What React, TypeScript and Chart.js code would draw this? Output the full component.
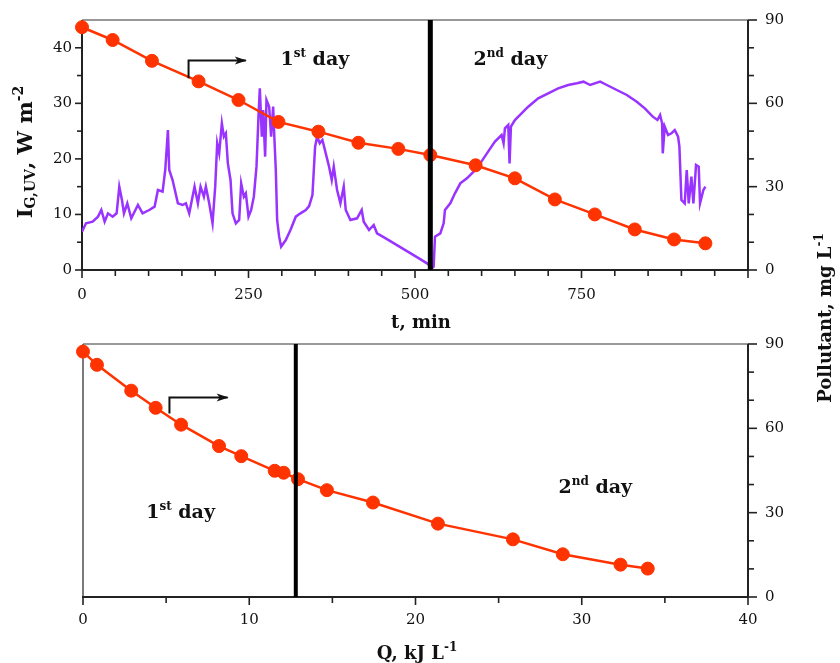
import React, { useEffect, useRef } from "react";
import { Chart, registerables } from "chart.js";

Chart.register(...registerables);

const FONT = '"DejaVu Serif", serif';

// ---- Top panel: irradiance (left axis) vs time ----
const irrTime = [0, 6, 16, 24, 29, 34, 39, 46, 52, 56, 60, 63, 68, 74, 84, 91, 101, 109, 114, 121, 125, 129, 131, 136, 144, 151, 156, 161, 169, 174, 178, 183, 186, 191, 196, 200, 203, 206, 210, 213, 216, 219, 223, 226, 231, 236, 239, 243, 246, 250, 254, 258, 262, 265, 267, 270, 272, 275, 277, 281, 284, 287, 289, 291, 293, 296, 299, 306, 313, 321, 328, 336, 341, 346, 350, 353, 357, 361, 366, 371, 375, 378, 383, 388, 393, 396, 403, 413, 420, 423, 431, 438, 443, 456, 481, 506, 518, 526, 528, 530, 538, 543, 545, 553, 560, 568, 578, 588, 598, 608, 620, 630, 633, 635, 640, 642, 644, 650, 660, 670, 685, 700, 715, 730, 743, 753, 763, 778, 788, 803, 818, 833, 845, 857, 864, 868, 871, 872, 875, 880, 885, 890, 895, 897, 900, 905, 908, 911, 915, 918, 922, 926, 928, 933, 936];
const irrValue = [6.9, 8.4, 8.7, 9.6, 10.8, 8.7, 10.2, 9.6, 10.2, 15.0, 12.6, 10.2, 12.0, 9.3, 11.7, 10.2, 10.8, 11.4, 14.4, 14.1, 18.0, 25.2, 18.0, 16.2, 12.0, 11.7, 12.0, 10.2, 15.0, 12.0, 15.0, 13.2, 15.0, 12.0, 8.4, 15.0, 22.8, 21.0, 26.4, 24.0, 24.6, 19.2, 16.2, 10.2, 8.4, 9.0, 15.6, 13.2, 13.8, 9.6, 10.8, 13.2, 18.6, 27.6, 32.7, 24.0, 28.8, 20.4, 30.6, 29.4, 24.0, 29.4, 23.4, 18.0, 9.0, 6.0, 4.2, 5.4, 7.2, 9.6, 10.2, 10.8, 11.5, 13.5, 22.2, 24.0, 22.8, 23.4, 21.0, 18.6, 16.2, 18.6, 14.4, 12.0, 15.0, 10.8, 9.0, 9.3, 10.8, 8.7, 7.2, 8.1, 6.6, 5.7, 3.9, 2.1, 1.2, 0.4, 0.6, 6.0, 6.6, 8.4, 10.8, 12.0, 13.8, 15.6, 16.5, 17.7, 19.2, 21.0, 23.1, 24.3, 22.8, 25.5, 26.1, 19.2, 25.8, 27.0, 28.2, 29.4, 30.9, 31.8, 32.7, 33.3, 33.6, 33.9, 33.3, 33.9, 33.3, 32.4, 31.5, 30.3, 29.1, 27.6, 27.0, 27.9, 26.4, 21.0, 25.8, 24.3, 24.6, 25.2, 24.0, 22.2, 12.6, 12.0, 18.0, 12.0, 16.8, 12.0, 18.9, 18.6, 12.0, 14.4, 15.0];

// ---- Top panel: pollutant (right axis) vs time ----
const pollTime = [0, 46, 105, 175, 235, 295, 355, 415, 475, 523, 591, 650, 710, 770, 830, 889, 936];
const pollTopValue = [87.4, 82.8, 75.3, 67.9, 61.2, 53.3, 49.8, 45.8, 43.6, 41.4, 37.7, 33.0, 25.4, 20.0, 14.6, 11.0, 9.6];

// ---- Bottom panel: pollutant vs accumulated energy ----
const energyQ = [0, 0.84, 2.9, 4.37, 5.9, 8.18, 9.52, 11.53, 12.07, 12.93, 14.67, 17.44, 21.35, 25.86, 28.86, 32.33, 33.97];
const pollBottomValue = [87.3, 82.6, 73.4, 67.3, 61.3, 53.7, 50.1, 44.9, 44.2, 41.9, 38.0, 33.6, 26.1, 20.5, 15.2, 11.5, 10.1];

const dayChangeTime = 523;
const dayChangeQ = 12.8;

// ---- Tick labels ----
const timeLabelTicks = [0, 250, 500, 750];
const timeMajorTicks = [0, 250, 500, 750, 1000];
const timeMinorTicks = [50, 100, 150, 200, 300, 350, 400, 450, 550, 600, 650, 700, 800, 850, 900, 950];
const irrMajorTicks = [0, 10, 20, 30, 40];
const irrMinorTicks = [5, 15, 25, 35];
const pollMajorTicks = [0, 30, 60, 90];
const pollMinorTicks = [10, 20, 40, 50, 70, 80];
const qMajorTicks = [0, 10, 20, 30, 40];
const qMinorTicks = [5, 15, 25, 35];

const RED = "#ff3300";
const PURPLE = "#9933ff";

type Part = [string, number, number];

function drawParts(ctx: CanvasRenderingContext2D, parts: Part[], x: number, y: number, center: boolean) {
  const widths = parts.map((p) => {
    ctx.font = `bold ${p[1]}px ${FONT}`;
    return ctx.measureText(p[0]).width;
  });
  const total = widths.reduce((a, b) => a + b, 0);
  let cx = center ? x - total / 2 : x;
  ctx.textAlign = "left";
  ctx.textBaseline = "alphabetic";
  parts.forEach((p, i) => {
    ctx.font = `bold ${p[1]}px ${FONT}`;
    ctx.fillText(p[0], cx, y + p[2]);
    cx += widths[i];
  });
}

function makeOverlay(cfg: any) {
  return {
    id: "overlay",
    beforeDatasetsDraw(chart: any) {
      const ctx: CanvasRenderingContext2D = chart.ctx;
      const a = chart.chartArea;
      const line = (x0: number, y0: number, x1: number, y1: number) => {
        ctx.beginPath();
        ctx.moveTo(x0, y0);
        ctx.lineTo(x1, y1);
        ctx.stroke();
      };
      ctx.save();
      ctx.strokeStyle = "#777";
      ctx.lineWidth = 1.3;
      line(a.left, a.top, a.right, a.top);
      ctx.strokeStyle = "#222";
      ctx.lineWidth = cfg.leftWidth;
      line(a.left, a.top, a.left, a.bottom);
      ctx.lineWidth = 2;
      line(a.left - 1, a.bottom, a.right + 1, a.bottom);
      line(a.right, a.top, a.right, a.bottom + 1);
      ctx.lineWidth = 1.6;
      for (const t of cfg.ticks) {
        const s = chart.scales[t.axis];
        for (const v of t.values) {
          const p = s.getPixelForValue(v);
          if (t.axis === "x") line(p, a.bottom, p, a.bottom + t.len);
          else if (s.position === "left") line(a.left, p, a.left - t.len, p);
          else line(a.right, p, a.right + t.len, p);
        }
      }
      ctx.restore();
    },
    afterDraw(chart: any) {
      const ctx: CanvasRenderingContext2D = chart.ctx;
      const xs = chart.scales.x;
      const ys = chart.scales[cfg.annAxis];
      ctx.save();
      ctx.fillStyle = "#111";
      ctx.strokeStyle = "#111";
      const ar = cfg.arrow;
      const ax0 = xs.getPixelForValue(ar.x0);
      const ax1 = xs.getPixelForValue(ar.x1);
      const ay0 = ys.getPixelForValue(ar.y0);
      const ay1 = ys.getPixelForValue(ar.y1);
      ctx.lineWidth = 2;
      ctx.beginPath();
      ctx.moveTo(ax0, ay0);
      ctx.lineTo(ax0, ay1);
      ctx.lineTo(ax1, ay1);
      ctx.stroke();
      ctx.beginPath();
      ctx.moveTo(ax1 + 1, ay1);
      ctx.lineTo(ax1 - 11, ay1 - 4);
      ctx.lineTo(ax1 - 8, ay1);
      ctx.lineTo(ax1 - 11, ay1 + 4);
      ctx.closePath();
      ctx.fill();
      for (const t of cfg.texts) {
        drawParts(ctx, t.parts, xs.getPixelForValue(t.x), ys.getPixelForValue(t.y), false);
      }
      for (const t of cfg.titles) {
        ctx.save();
        ctx.translate(t.x, t.y);
        if (t.rot) ctx.rotate(-Math.PI / 2);
        drawParts(ctx, t.parts, 0, 0, true);
        ctx.restore();
      }
      ctx.restore();
    },
  };
}

const tickFont = { family: FONT, size: 15 };

function setTicks(values: number[]) {
  return (s: any) => {
    s.ticks = values.map((v) => ({ value: v }));
  };
}

function fitY(width: number) {
  return (s: any) => {
    s.width = width;
    s.paddingTop = 0;
    s.paddingBottom = 0;
  };
}

export default function App() {
  const topRef = useRef<HTMLCanvasElement>(null);
  const botRef = useRef<HTMLCanvasElement>(null);

  useEffect(() => {
    document.body.style.margin = "0";
    const top = new Chart(topRef.current as HTMLCanvasElement, {
      type: "line",
      data: {
        datasets: [
          {
            data: [
              { x: dayChangeTime, y: 0 },
              { x: dayChangeTime, y: 45 },
            ],
            yAxisID: "y",
            borderColor: "#000",
            borderWidth: 5,
            pointRadius: 0,
            order: 0,
          },
          {
            data: pollTime.map((t, i) => ({ x: t, y: pollTopValue[i] })),
            yAxisID: "y2",
            borderColor: RED,
            borderWidth: 2.5,
            pointRadius: 6.5,
            pointBackgroundColor: RED,
            pointBorderColor: RED,
            pointBorderWidth: 1,
            clip: false as any,
            order: 1,
          },
          {
            data: irrTime.map((t, i) => ({ x: t, y: irrValue[i] })),
            yAxisID: "y",
            borderColor: PURPLE,
            borderWidth: 2.5,
            pointRadius: 0,
            order: 2,
          },
        ],
      },
      options: {
        responsive: false,
        animation: false,
        events: [],
        layout: { padding: { left: 0, right: 0, top: 20, bottom: 333 } },
        plugins: { legend: { display: false }, tooltip: { enabled: false } },
        scales: {
          x: {
            type: "linear",
            position: "bottom",
            min: 0,
            max: 1000,
            afterFit: (s: any) => { s.height = 60; },
            afterBuildTicks: setTicks(timeLabelTicks),
            grid: { display: false, drawTicks: false },
            border: { display: false },
            ticks: { font: tickFont, color: "#111", padding: 16, maxRotation: 0, autoSkip: false },
          },
          y: {
            type: "linear",
            position: "left",
            min: 0,
            max: 45,
            afterFit: fitY(82),
            afterBuildTicks: setTicks(irrMajorTicks),
            grid: { display: false, drawTicks: false },
            border: { display: false },
            ticks: { font: tickFont, color: "#111", padding: 10 },
          },
          y2: {
            type: "linear",
            position: "right",
            min: 0,
            max: 90,
            afterFit: fitY(92),
            afterBuildTicks: setTicks(pollMajorTicks),
            grid: { display: false, drawTicks: false },
            border: { display: false },
            ticks: { font: tickFont, color: "#111", padding: 17 },
          },
        },
      },
      plugins: [
        makeOverlay({
          leftWidth: 2,
          annAxis: "y",
          ticks: [
            { axis: "x", values: timeMajorTicks, len: 8 },
            { axis: "x", values: timeMinorTicks, len: 6 },
            { axis: "y", values: irrMajorTicks, len: 7 },
            { axis: "y", values: irrMinorTicks, len: 5 },
            { axis: "y2", values: pollMajorTicks, len: 9 },
            { axis: "y2", values: pollMinorTicks, len: 6 },
          ],
          arrow: { x0: 160, y0: 34.5, y1: 37.7, x1: 246 },
          texts: [
            { x: 298, y: 36.9, parts: [["1", 19, 0], ["st", 12, -8], [" day", 19, 0]] },
            { x: 588, y: 36.9, parts: [["2", 19, 0], ["nd", 12, -8], [" day", 19, 0]] },
          ],
          titles: [
            { x: 421, y: 328, rot: false, parts: [["t, min", 18, 0]] },
            { x: 32, y: 152, rot: true, parts: [["I", 21, 0], ["G,UV", 14, 3], [",", 21, 0], [" W m", 21, 0], ["-2", 14, -9]] },
            { x: 831, y: 318, rot: true, parts: [["Pollutant, mg L", 18, 0], ["-1", 12, -8]] },
          ],
        }) as any,
      ],
    } as any);

    const bot = new Chart(botRef.current as HTMLCanvasElement, {
      type: "line",
      data: {
        datasets: [
          {
            data: [
              { x: dayChangeQ, y: 0 },
              { x: dayChangeQ, y: 90 },
            ],
            yAxisID: "y2",
            borderColor: "#000",
            borderWidth: 4,
            pointRadius: 0,
            order: 0,
          },
          {
            data: energyQ.map((q, i) => ({ x: q, y: pollBottomValue[i] })),
            yAxisID: "y2",
            borderColor: RED,
            borderWidth: 2.5,
            pointRadius: 6.5,
            pointBackgroundColor: RED,
            pointBorderColor: RED,
            pointBorderWidth: 1,
            clip: false as any,
            order: 1,
          },
        ],
      },
      options: {
        responsive: false,
        animation: false,
        events: [],
        layout: { padding: { left: 83, right: 0, top: 344, bottom: 0 } },
        plugins: { legend: { display: false }, tooltip: { enabled: false } },
        scales: {
          x: {
            type: "linear",
            position: "bottom",
            min: 0,
            max: 40,
            afterFit: (s: any) => { s.height = 66; },
            afterBuildTicks: setTicks(qMajorTicks),
            grid: { display: false, drawTicks: false },
            border: { display: false },
            ticks: { font: tickFont, color: "#111", padding: 14, maxRotation: 0, autoSkip: false },
          },
          y2: {
            type: "linear",
            position: "right",
            min: 0,
            max: 90,
            afterFit: fitY(92),
            afterBuildTicks: setTicks(pollMajorTicks),
            grid: { display: false, drawTicks: false },
            border: { display: false },
            ticks: { font: tickFont, color: "#111", padding: 17 },
          },
        },
      },
      plugins: [
        makeOverlay({
          leftWidth: 1.2,
          annAxis: "y2",
          ticks: [
            { axis: "x", values: qMajorTicks, len: 8 },
            { axis: "x", values: qMinorTicks, len: 6 },
            { axis: "y2", values: pollMajorTicks, len: 9 },
            { axis: "y2", values: pollMinorTicks, len: 6 },
          ],
          arrow: { x0: 5.2, y0: 65.3, y1: 71.0, x1: 8.7 },
          texts: [
            { x: 3.8, y: 28.0, parts: [["1", 19, 0], ["st", 12, -8], [" day", 19, 0]] },
            { x: 28.6, y: 37.0, parts: [["2", 19, 0], ["nd", 12, -8], [" day", 19, 0]] },
          ],
          titles: [
            { x: 417, y: 659, rot: false, parts: [["Q, kJ L", 18, 0], ["-1", 12, -8]] },
          ],
        }) as any,
      ],
    } as any);

    return () => {
      top.destroy();
      bot.destroy();
    };
  }, []);

  const cstyle: React.CSSProperties = { position: "absolute", left: 0, top: 0, width: 840, height: 663 };
  return (
    <div style={{ position: "absolute", left: 0, top: 0, width: 840, height: 663, background: "#fff" }}>
      <canvas ref={topRef} width={840} height={663} style={cstyle} />
      <canvas ref={botRef} width={840} height={663} style={cstyle} />
    </div>
  );
}
